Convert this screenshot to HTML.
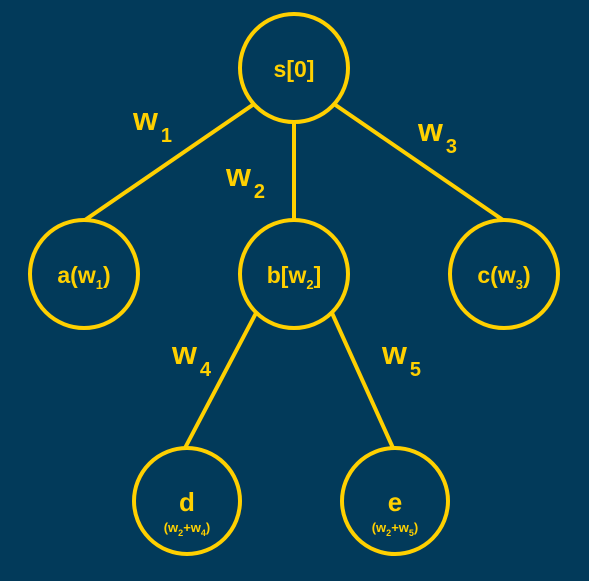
<!DOCTYPE html>
<html><head><meta charset="utf-8"><style>
html,body{margin:0;padding:0;background:#023a5a;}
svg{display:block;}
text{font-family:"Liberation Sans",sans-serif;font-weight:700;}
</style></head><body>
<svg width="589" height="581" viewBox="0 0 589 581">
<rect width="589" height="581" fill="#023a5a"/>
<g stroke="#ffd000" stroke-width="4" fill="none">
<line x1="254" y1="104" x2="85" y2="220"/>
<line x1="294" y1="122" x2="294" y2="220"/>
<line x1="334" y1="104" x2="503" y2="220"/>
<line x1="256" y1="313" x2="185" y2="448"/>
<line x1="332" y1="313" x2="393" y2="448"/>
<circle cx="294" cy="68" r="54"/>
<circle cx="84" cy="274" r="54"/>
<circle cx="294" cy="274" r="54"/>
<circle cx="504" cy="274" r="54"/>
<circle cx="187" cy="501" r="53"/>
<circle cx="395" cy="501" r="53"/>
</g>
<g fill="#ffd000" font-weight="bold">
<text x="294" y="77" font-size="23" text-anchor="middle">s[0]</text>
<text x="84" y="283" font-size="23" text-anchor="middle">a(w<tspan font-size="13" dy="6">1</tspan><tspan dy="-6">)</tspan></text>
<text x="294" y="283" font-size="23" text-anchor="middle">b[w<tspan font-size="13" dy="6">2</tspan><tspan dy="-6">]</tspan></text>
<text x="504" y="283" font-size="23" text-anchor="middle">c(w<tspan font-size="13" dy="6">3</tspan><tspan dy="-6">)</tspan></text>
<text x="187" y="511" font-size="26" text-anchor="middle">d</text>
<text x="187" y="532" font-size="13" text-anchor="middle">(w<tspan font-size="9" dy="4">2</tspan><tspan dy="-4">+w</tspan><tspan font-size="9" dy="4">4</tspan><tspan dy="-4">)</tspan></text>
<text x="395" y="511" font-size="26" text-anchor="middle">e</text>
<text x="395" y="532" font-size="13" text-anchor="middle">(w<tspan font-size="9" dy="4">2</tspan><tspan dy="-4">+w</tspan><tspan font-size="9" dy="4">5</tspan><tspan dy="-4">)</tspan></text>
<text x="133" y="130" font-size="32">w<tspan font-size="20" dx="3" dy="12">1</tspan></text>
<text x="226" y="186" font-size="32">w<tspan font-size="20" dx="3" dy="12">2</tspan></text>
<text x="418" y="141" font-size="32">w<tspan font-size="20" dx="3" dy="12">3</tspan></text>
<text x="172" y="364" font-size="32">w<tspan font-size="20" dx="3" dy="12">4</tspan></text>
<text x="382" y="364" font-size="32">w<tspan font-size="20" dx="3" dy="12">5</tspan></text>
</g>
</svg>
</body></html>
